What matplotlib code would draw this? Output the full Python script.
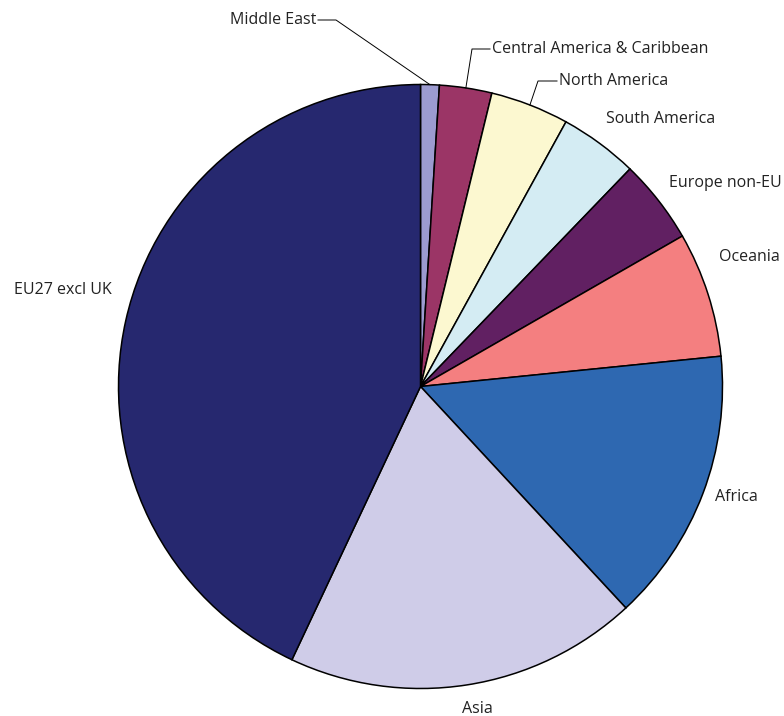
import numpy as np
from matplotlib import pyplot as plt

# Share of total by region, clockwise from 12 o'clock
regions = [
    'Middle East', 'Central America & Caribbean', 'North America',
    'South America', 'Europe non-EU', 'Oceania', 'Africa', 'Asia',
    'EU27 excl UK',
]
shares = [1.0, 2.8, 4.2, 4.2, 4.5, 6.7, 14.7, 18.9, 43.0]
colors = [
    '#9c9bd0', '#9b3566', '#fcf8d0', '#d4ecf3', '#612062', '#f47f80',
    '#2e68b1', '#cfcce8', '#26286f',
]

W, H = 784, 716
CX, CY, R = 420.5, 716 - 386.5, 302

plt.rcParams['font.family'] = ['Open Sans', 'DejaVu Sans']

fig = plt.figure(figsize=(W / 100, H / 100), dpi=100)
ax = fig.add_axes([0, 0, 1, 1])
ax.set_xlim(0, W)
ax.set_ylim(0, H)
ax.set_aspect('equal')
ax.axis('off')

wedges, _ = ax.pie(
    shares, colors=colors, startangle=90, counterclock=False,
    center=(CX, CY), radius=R,
    wedgeprops=dict(edgecolor='black', linewidth=1.1),
)
ax.set_xlim(0, W)
ax.set_ylim(0, H)


def _edge_point(wedge):
    ang = np.deg2rad((wedge.theta1 + wedge.theta2) / 2)
    return CX + R * np.cos(ang), CY + R * np.sin(ang)


text_kw = dict(fontsize=11.5, color='#222222', va='center')

# Labels with leader lines (small slices at the top)
ex, ey = _edge_point(wedges[0])
ax.plot([318, 336, ex], [H - 20, H - 20, ey], color='black', lw=0.7)
ax.text(316, H - 20, regions[0], ha='right', **text_kw)

ex, ey = _edge_point(wedges[1])
ax.plot([490, 472, ex], [H - 49, H - 49, ey], color='black', lw=0.7)
ax.text(492, H - 49, regions[1], ha='left', **text_kw)

ex, ey = _edge_point(wedges[2])
ax.plot([557, 538, ex], [H - 81, H - 81, ey], color='black', lw=0.7)
ax.text(559, H - 81, regions[2], ha='left', **text_kw)

# Plain labels
ax.text(606, H - 119, regions[3], ha='left', **text_kw)
ax.text(669, H - 183, regions[4], ha='left', **text_kw)
ax.text(719, H - 257, regions[5], ha='left', **text_kw)
ax.text(715, H - 497, regions[6], ha='left', **text_kw)
ax.text(477, H - 709, regions[7], ha='center', **text_kw)
ax.text(112, H - 290, regions[8], ha='right', **text_kw)

fig.savefig('out.png', dpi=100)
